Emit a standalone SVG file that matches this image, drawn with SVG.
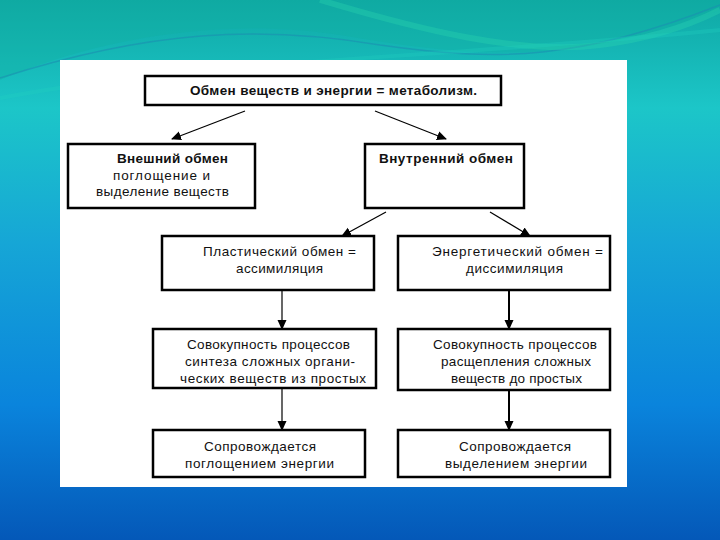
<svg xmlns="http://www.w3.org/2000/svg" width="720" height="540" viewBox="0 0 720 540">
<defs>
<linearGradient id="bg" x1="0" y1="0" x2="0" y2="1">
<stop offset="0" stop-color="#0fa8a4"/>
<stop offset="0.2" stop-color="#1cc6c8"/>
<stop offset="0.45" stop-color="#16a6d6"/>
<stop offset="0.75" stop-color="#0a84dc"/>
<stop offset="1" stop-color="#0458b8"/>
</linearGradient>
<marker id="ah" viewBox="0 0 10 10" refX="9" refY="5" markerWidth="10" markerHeight="10" markerUnits="userSpaceOnUse" orient="auto">
<path d="M0,0.5 L10,5 L0,9.5 Z" fill="#000"/>
</marker>
<style>
.box{fill:#fff;stroke:#000;stroke-width:2.5}
.t{font-family:"Liberation Sans",Arial,sans-serif;font-size:13.5px;fill:#111;text-anchor:start}
.b{font-weight:bold}
.c{stroke:#000;stroke-width:1.2;fill:none;marker-end:url(#ah)}
</style>
</defs>
<rect width="720" height="540" fill="url(#bg)"/>
<path d="M0,80 C120,30 240,20 340,35 C460,55 560,70 720,10 L720,0 L0,0 Z" fill="#12b0a0" opacity="0.35"/>
<path d="M0,78 C150,30 260,25 380,45 C500,62 580,60 720,5" stroke="#1a8fb0" stroke-width="1.5" fill="none" opacity="0.6"/>
<path d="M320,0 C420,30 520,55 600,45 C660,38 700,20 720,10" stroke="#2ad8b0" stroke-width="6" fill="none" opacity="0.35"/>
<path d="M0,98 C200,60 420,60 720,30" stroke="#20d0c0" stroke-width="4" fill="none" opacity="0.3"/>
<rect x="60" y="60" width="567" height="427" fill="#fff"/>

<g id="connectors">
<line class="c" x1="245" y1="111" x2="172" y2="139"/>
<line class="c" x1="375" y1="111" x2="446" y2="139"/>
<line class="c" x1="386" y1="212" x2="342" y2="236"/>
<line class="c" x1="490" y1="212" x2="530" y2="236"/>
<line class="c" x1="282" y1="290" x2="282" y2="329"/>
<line class="c" x1="509" y1="290" x2="509" y2="329" style="stroke-width:2"/>
<line class="c" x1="282" y1="388" x2="282" y2="430"/>
<line class="c" x1="509" y1="390" x2="509" y2="430" style="stroke-width:2"/>
</g>

<g id="n-metabolism">
<rect class="box" x="145" y="76" width="356" height="29"/>
<text class="t b" x="190" y="95" textLength="287" lengthAdjust="spacing">Обмен веществ и энергии = метаболизм.</text>
</g>
<g id="n-external">
<rect class="box" x="68" y="144" width="187" height="64"/>
<text class="t b" x="117" y="163" textLength="111" lengthAdjust="spacing">Внешний обмен</text>
<text class="t" x="113" y="180" textLength="97" lengthAdjust="spacing">поглощение и</text>
<text class="t" x="96" y="196" textLength="133" lengthAdjust="spacing">выделение веществ</text>
</g>
<g id="n-internal">
<rect class="box" x="365" y="144" width="159" height="64"/>
<text class="t b" x="379" y="163" textLength="134" lengthAdjust="spacing">Внутренний обмен</text>
</g>
<g id="n-plastic">
<rect class="box" x="162" y="236" width="212" height="54"/>
<text class="t" x="203" y="256" textLength="153" lengthAdjust="spacing">Пластический  обмен =</text>
<text class="t" x="236" y="273" textLength="87" lengthAdjust="spacing">ассимиляция</text>
</g>
<g id="n-energy">
<rect class="box" x="398" y="236" width="212" height="54"/>
<text class="t" x="432" y="256" textLength="171" lengthAdjust="spacing">Энергетический   обмен =</text>
<text class="t" x="466" y="273" textLength="97" lengthAdjust="spacing">диссимиляция</text>
</g>
<g id="n-synthesis">
<rect class="box" x="153" y="329" width="223" height="59"/>
<text class="t" x="187" y="349" textLength="163" lengthAdjust="spacing">Совокупность процессов</text>
<text class="t" x="185" y="366" textLength="170" lengthAdjust="spacing">синтеза сложных органи-</text>
<text class="t" x="180" y="383" textLength="186" lengthAdjust="spacing">ческих веществ из простых</text>
</g>
<g id="n-splitting">
<rect class="box" x="398" y="329" width="212" height="61"/>
<text class="t" x="433" y="349" textLength="164" lengthAdjust="spacing">Совокупность процессов</text>
<text class="t" x="441" y="366" textLength="150" lengthAdjust="spacing">расщепления сложных</text>
<text class="t" x="451" y="383" textLength="131" lengthAdjust="spacing">веществ до простых</text>
</g>
<g id="n-absorb">
<rect class="box" x="153" y="430" width="212" height="47"/>
<text class="t" x="204" y="451" textLength="112" lengthAdjust="spacing">Сопровождается</text>
<text class="t" x="185" y="468" textLength="149" lengthAdjust="spacing">поглощением  энергии</text>
</g>
<g id="n-release">
<rect class="box" x="398" y="430" width="212" height="47"/>
<text class="t" x="459" y="451" textLength="112" lengthAdjust="spacing">Сопровождается</text>
<text class="t" x="445" y="468" textLength="142" lengthAdjust="spacing">выделением  энергии</text>
</g>
</svg>
